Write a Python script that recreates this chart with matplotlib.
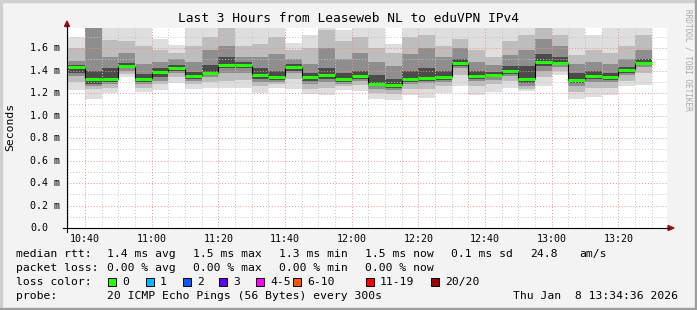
"""SmokePing style latency chart: Leaseweb NL to eduVPN IPv4."""

import matplotlib
matplotlib.use('Agg')
import matplotlib.pyplot as plt
import matplotlib.dates as mdates
import matplotlib.transforms as mtrans
from matplotlib.lines import Line2D
from matplotlib.patches import Rectangle, Polygon
import pandas as pd

W, H = 697, 310
MONO = 'DejaVu Sans Mono'
BG = '#f3f3f3'

# ── Data (ms), one entry per 5-minute bucket ──
bar_times = pd.date_range('2026-01-08 10:35', periods=35, freq='5min')
t_start = pd.Timestamp('2026-01-08 10:34:36')
t_now = pd.Timestamp('2026-01-08 13:34:36')

median = [1.430, 1.324, 1.324, 1.443, 1.324, 1.387, 1.422, 1.351, 1.380, 1.452,
          1.452, 1.363, 1.342, 1.431, 1.342, 1.363, 1.324, 1.351, 1.280, 1.271,
          1.324, 1.333, 1.342, 1.470, 1.351, 1.360, 1.396, 1.324, 1.478, 1.470,
          1.316, 1.351, 1.342, 1.407, 1.470]
p_min = [1.23, 1.15, 1.20, 1.34, 1.21, 1.23, 1.29, 1.24, 1.25, 1.245,
         1.25, 1.20, 1.25, 1.24, 1.19, 1.18, 1.23, 1.22, 1.15, 1.14,
         1.18, 1.155, 1.20, 1.26, 1.18, 1.21, 1.25, 1.22, 1.26, 1.36,
         1.15, 1.17, 1.18, 1.26, 1.27]
p10 = [1.30, 1.24, 1.25, 1.37, 1.25, 1.28, 1.34, 1.28, 1.30, 1.31,
       1.32, 1.26, 1.28, 1.33, 1.24, 1.25, 1.26, 1.27, 1.20, 1.19,
       1.24, 1.24, 1.26, 1.36, 1.26, 1.28, 1.31, 1.24, 1.34, 1.40,
       1.21, 1.25, 1.25, 1.31, 1.38]
p25 = [1.35, 1.26, 1.28, 1.40, 1.28, 1.31, 1.38, 1.31, 1.34, 1.38,
       1.38, 1.30, 1.30, 1.38, 1.28, 1.30, 1.28, 1.31, 1.24, 1.23,
       1.28, 1.29, 1.30, 1.42, 1.31, 1.32, 1.35, 1.26, 1.40, 1.43,
       1.26, 1.30, 1.30, 1.36, 1.43]
p40 = [1.38, 1.285, 1.30, 1.42, 1.30, 1.34, 1.40, 1.33, 1.36, 1.42,
       1.42, 1.33, 1.32, 1.40, 1.31, 1.33, 1.30, 1.33, 1.26, 1.25,
       1.30, 1.31, 1.32, 1.44, 1.33, 1.34, 1.37, 1.29, 1.44, 1.45,
       1.29, 1.33, 1.32, 1.38, 1.45]
p60 = [1.455, 1.40, 1.42, 1.47, 1.37, 1.42, 1.45, 1.39, 1.45, 1.52,
       1.48, 1.42, 1.40, 1.46, 1.38, 1.42, 1.38, 1.40, 1.36, 1.33,
       1.40, 1.42, 1.40, 1.50, 1.40, 1.39, 1.44, 1.44, 1.55, 1.52,
       1.38, 1.40, 1.38, 1.43, 1.50]
p75 = [1.49, 1.80, 1.52, 1.56, 1.46, 1.48, 1.50, 1.48, 1.58, 1.62,
       1.52, 1.52, 1.55, 1.50, 1.46, 1.60, 1.50, 1.56, 1.48, 1.44,
       1.55, 1.60, 1.52, 1.60, 1.48, 1.45, 1.54, 1.58, 1.68, 1.62,
       1.46, 1.48, 1.46, 1.50, 1.58]
p90 = [1.60, 1.85, 1.67, 1.66, 1.62, 1.58, 1.56, 1.62, 1.70, 1.80,
       1.62, 1.64, 1.70, 1.58, 1.60, 1.76, 1.66, 1.70, 1.60, 1.56,
       1.70, 1.72, 1.62, 1.68, 1.58, 1.52, 1.66, 1.72, 1.80, 1.72,
       1.54, 1.58, 1.56, 1.62, 1.72]
p_max = [1.70, 1.90, 1.80, 1.80, 1.80, 1.68, 1.63, 1.80, 1.80, 1.90,
         1.80, 1.80, 1.80, 1.65, 1.72, 1.82, 1.76, 1.80, 1.80, 1.64,
         1.80, 1.80, 1.80, 1.80, 1.80, 1.80, 1.80, 1.80, 1.90, 1.80,
         1.80, 1.72, 1.80, 1.80, 1.80]

ytick_vals = [0.0, 0.2, 0.4, 0.6, 0.8, 1.0, 1.2, 1.4, 1.6]
ytick_labels = ['0.0', '0.2 m', '0.4 m', '0.6 m', '0.8 m', '1.0 m', '1.2 m', '1.4 m', '1.6 m']
xtick_labels = ['10:40', '11:00', '11:20', '11:40', '12:00', '12:20', '12:40', '13:00', '13:20']

loss_labels = ['0', '1', '2', '3', '4-5', '6-10', '11-19', '20/20']
loss_colors = ['#26ff00', '#00b8ff', '#0059ff', '#5e00ff', '#ff00ff', '#ff5500', '#ff0000', '#a10000']


def fx(x):
    return x / W


def fy(y):
    return 1 - y / H


fig = plt.figure(figsize=(W / 100, H / 100), dpi=100, facecolor=BG)
ax = fig.add_axes([fx(67), fy(228), 600 / W, 200 / H], facecolor='white')

x0 = mdates.date2num(bar_times)
bw = 5 / 1440.0

# smoke bands, outer to inner
bands = [(p_min, p_max, '#dedede'), (p10, p90, '#bdbdbd'),
         (p25, p75, '#8e8e8e'), (p40, p60, '#4b4b4b')]
for lo, hi, col in bands:
    ax.bar(x0, [h - l for l, h in zip(lo, hi)], bottom=lo, width=bw,
           align='edge', color=col, linewidth=0, zorder=1)

# grid on top of the smoke
dotted = (0, (1, 2))
for i in range(1, 18):
    v = i * 0.1
    major = (i % 2 == 0)
    ax.axhline(v, color='#f09090' if major else '#c4c4c4', lw=0.7,
               ls=dotted, zorder=3)
grid_times = pd.date_range('2026-01-08 10:35', '2026-01-08 13:30', freq='5min')
for t in grid_times:
    major = (t.minute % 20 == 0)
    ax.axvline(mdates.date2num(t), color='#f09090' if major else '#c4c4c4',
               lw=0.7, ls=dotted, zorder=3)

# median line
for i in range(len(median) - 1):
    ax.vlines(x0[i] + bw, median[i], median[i + 1], colors='black', lw=0.8, zorder=4)
ax.hlines(median, x0, x0 + bw, colors='#26ff00', lw=2.2, zorder=5)

ax.set_xlim(mdates.date2num(t_start), mdates.date2num(t_now))
ax.set_ylim(0, 1.78)
for s in ax.spines.values():
    s.set_visible(False)

tick_times = pd.date_range('2026-01-08 10:40', periods=len(xtick_labels), freq='20min')
ax.set_xticks(mdates.date2num(tick_times))
ax.set_xticklabels(xtick_labels, fontfamily=MONO, fontsize=7.2)
ax.tick_params(axis='x', length=0, pad=4)
ax.set_yticks([])

ytrans = mtrans.blended_transform_factory(fig.transFigure, ax.transData)
for v, lab in zip(ytick_vals, ytick_labels):
    ax.text(fx(30), v, lab, transform=ytrans, ha='left', va='center',
            fontfamily=MONO, fontsize=7.2)

# axes with arrows
fig.add_artist(Line2D([fx(63), fx(669)], [fy(228), fy(228)], color='black', lw=0.8))
fig.add_artist(Line2D([fx(67), fx(67)], [fy(232), fy(25)], color='black', lw=0.8))
fig.add_artist(Polygon([(fx(668), fy(225.5)), (fx(674), fy(228)), (fx(668), fy(230.5))],
                       closed=True, color='#9a1010', transform=fig.transFigure))
fig.add_artist(Polygon([(fx(64.5), fy(26.5)), (fx(67), fy(21)), (fx(69.5), fy(26.5))],
                       closed=True, color='#9a1010', transform=fig.transFigure))

# titles
fig.text(0.5, fy(19), 'Last 3 Hours from Leaseweb NL to eduVPN IPv4',
         ha='center', va='center', fontfamily=MONO, fontsize=9.3)
fig.text(fx(10), fy(127), 'Seconds', rotation=90, ha='center', va='center',
         fontfamily=MONO, fontsize=8.2)
fig.text(fx(688), fy(60), 'RRDTOOL / TOBI OETIKER', rotation=270, ha='center',
         va='center', fontfamily=MONO, fontsize=5.6, color='#a8a8a8')

# legend rows
def txt(x, y, s):
    fig.text(fx(x), fy(y), s, ha='left', va='center', fontfamily=MONO, fontsize=8.2)


txt(16, 254, 'median rtt:')
for x, s in zip([107, 193, 279, 365, 451, 530, 579],
                ['1.4 ms avg', '1.5 ms max', '1.3 ms min', '1.5 ms now',
                 '0.1 ms sd', '24.8', 'am/s']):
    txt(x, 254, s)
txt(16, 268, 'packet loss:')
for x, s in zip([107, 193, 279, 365],
                ['0.00 % avg', '0.00 % max', '0.00 % min', '0.00 % now']):
    txt(x, 268, s)
txt(16, 282, 'loss color:')
box_x = [108, 146, 183, 219, 256, 293, 366, 431]
for x, lab, col in zip(box_x, loss_labels, loss_colors):
    fig.add_artist(Rectangle((fx(x), fy(286)), 8 / W, 8 / H, facecolor=col,
                             edgecolor='black', lw=0.7, transform=fig.transFigure))
    txt(x + 14, 282, lab)
txt(16, 296, 'probe:')
txt(107, 296, '20 ICMP Echo Pings (56 Bytes) every 300s')
txt(513, 296, 'Thu Jan  8 13:34:36 2026')

# shaded border
fig.add_artist(Rectangle((0, fy(1.5)), 1, 1.5 / H, color='#cfcfcf', transform=fig.transFigure))
fig.add_artist(Rectangle((0, 0), 1.5 / W, 1, color='#cfcfcf', transform=fig.transFigure))
fig.add_artist(Rectangle((0, 0), 1, 2 / H, color='#9e9e9e', transform=fig.transFigure))
fig.add_artist(Rectangle((fx(695), 0), 2 / W, 1, color='#9e9e9e', transform=fig.transFigure))

fig.savefig('out.png', dpi=100, facecolor=BG)
